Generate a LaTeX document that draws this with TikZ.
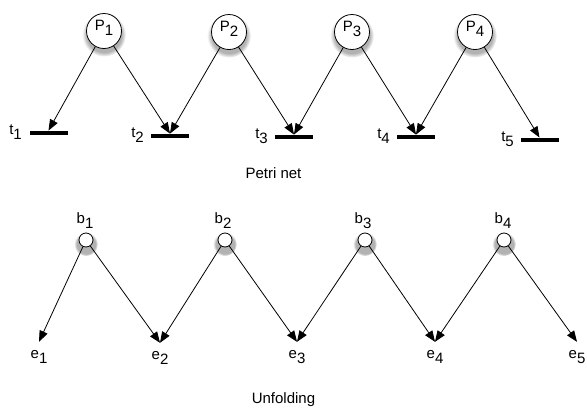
\documentclass[tikz,border=0pt]{standalone}
\usepackage{fontspec}
\setmainfont{Liberation Sans}
\usetikzlibrary{arrows.meta,shadows,fadings}
\newcommand\lsub[1]{\raisebox{-5pt}{#1}}
\begin{document}
\begin{tikzpicture}[x=1pt,y=-1pt,font=\fontsize{15}{17}\selectfont,
  place/.style={circle,draw,fill=white,minimum size=35pt,inner sep=0pt,line width=0.8pt,text depth=12pt,
    circular drop shadow={shadow xshift=0pt,shadow yshift=-3pt,shadow scale=1.25,fill=black,opacity=0.3,path fading={circle with fuzzy edge 20 percent}}},
  cond/.style={circle,draw,fill=white,minimum size=14pt,inner sep=0pt,line width=0.8pt,
    circular drop shadow={shadow xshift=0pt,shadow yshift=-2.5pt,shadow scale=1.7,fill=black,opacity=0.3,path fading={circle with fuzzy edge 20 percent}}},
  trans/.style={rectangle,fill=black,minimum width=38pt,minimum height=4.5pt,inner sep=0pt},
  lbl/.style={inner sep=0pt},
  elbl/.style={inner sep=1pt,text height=15pt},
  arc/.style={-{Triangle[length=11pt,width=8.5pt]},line width=0.8pt}]
\useasboundingbox (0,0) rectangle (587,408);
% Petri net
\node[place] (P1) at (104,31) {P\lsub{1}};
\node[place] (P2) at (229,32) {P\lsub{2}};
\node[place] (P3) at (352,32) {P\lsub{3}};
\node[place] (P4) at (475,32) {P\lsub{4}};
\node[trans] (t1) at (48.5,133) {};
\node[trans] (t2) at (170,136) {};
\node[trans] (t3) at (294,137) {};
\node[trans] (t4) at (416,137) {};
\node[trans] (t5) at (539.5,140) {};
\node[lbl,anchor=base east] (lt1) at (22,134) {t\lsub{1}};
\node[lbl,anchor=base east] (lt2) at (144,137) {t\lsub{2}};
\node[lbl,anchor=base east] (lt3) at (268,138) {t\lsub{3}};
\node[lbl,anchor=base east] (lt4) at (390,138) {t\lsub{4}};
\node[lbl,anchor=base east] (lt5) at (514,141) {t\lsub{5}};
\draw[arc] (P1) -- (t1.north);
\draw[arc] (P1) -- (t2.north);
\draw[arc] (P2) -- (t2.north);
\draw[arc] (P2) -- (t3.north);
\draw[arc] (P3) -- (t3.north);
\draw[arc] (P3) -- (t4.north);
\draw[arc] (P4) -- (t4.north);
\draw[arc] (P4) -- (t5.north);
\node[lbl,anchor=base] (pn) at (273.5,178) {Petri net};
% Unfolding
\node[cond] (b1) at (86,240) {};
\node[cond] (b2) at (225,240) {};
\node[cond] (b3) at (365,240) {};
\node[cond] (b4) at (504,240) {};
\node[lbl,anchor=base] (lb1) at (85,223) {b\lsub{1}};
\node[lbl,anchor=base] (lb2) at (223,223) {b\lsub{2}};
\node[lbl,anchor=base] (lb3) at (363,223) {b\lsub{3}};
\node[lbl,anchor=base] (lb4) at (503,223) {b\lsub{4}};
\node[elbl,anchor=base] (e1) at (39,358) {e\lsub{1}};
\node[elbl,anchor=base] (e2) at (160,359) {e\lsub{2}};
\node[elbl,anchor=base] (e3) at (297,358) {e\lsub{3}};
\node[elbl,anchor=base] (e4) at (435,358) {e\lsub{4}};
\node[elbl,anchor=base] (e5) at (577,358) {e\lsub{5}};
\draw[arc] (b1) -- (e1.north);
\draw[arc] (b1) -- (e2.north);
\draw[arc] (b2) -- (e2.north);
\draw[arc] (b2) -- (e3.north);
\draw[arc] (b3) -- (e3.north);
\draw[arc] (b3) -- (e4.north);
\draw[arc] (b4) -- (e4.north);
\draw[arc] (b4) -- (e5.north);
\node[lbl,anchor=base] (uf) at (283.5,403) {Unfolding};
\end{tikzpicture}
\end{document}
